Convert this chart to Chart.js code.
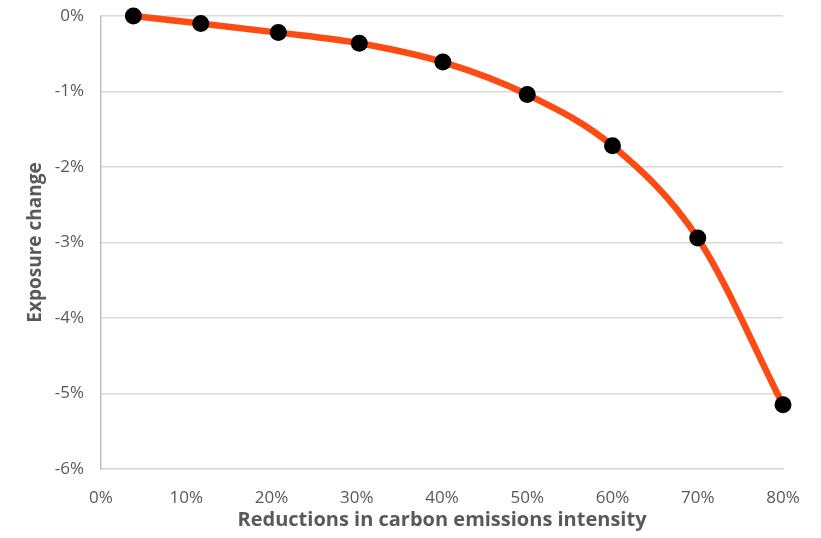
<!DOCTYPE html>
<html>
<head>
<meta charset="utf-8">
<script src="https://cdn.jsdelivr.net/npm/chart.js@4"></script>
<style>
  html, body { margin: 0; padding: 0; background: #fff; }
  #wrap { width: 821px; height: 538px; }
</style>
</head>
<body>
<div id="wrap"><canvas id="chart" width="821" height="538"></canvas></div>
<script>
// reduction in carbon intensity (%) and exposure change (%)
const reductions = [3.8, 11.7, 20.8, 30.3, 40.1, 50, 60, 70, 80]
const exposureChange = [0.0, -0.10, -0.22, -0.36, -0.61, -1.04, -1.72, -2.94, -5.15]
const xTicks = [0, 10, 20, 30, 40, 50, 60, 70, 80]
const yTicks = [-6, -5, -4, -3, -2, -1, 0]

const points = reductions.map((r, i) => ({ x: r, y: exposureChange[i] }))
const grey = '#595959'

new Chart(document.getElementById('chart'), {
  type: 'scatter',
  data: {
    datasets: [{
      data: points,
      showLine: true,
      borderColor: '#fc4c14',
      borderWidth: 6.5,
      cubicInterpolationMode: 'monotone',
      pointRadius: 8.5,
      pointBackgroundColor: '#000',
      pointBorderWidth: 0,
      clip: false
    }]
  },
  options: {
    responsive: false,
    animation: false,
    layout: { padding: { top: 16, right: 38, bottom: 2, left: 20 } },
    plugins: { legend: { display: false }, tooltip: { enabled: false } },
    scales: {
      x: {
        type: 'linear',
        min: 0, max: 80,
        afterBuildTicks: s => { s.ticks = xTicks.map(v => ({ value: v })) },
        grid: { display: false },
        border: { color: '#d9d9d9', width: 1.5 },
        ticks: { color: grey, font: { family: 'Open Sans', size: 17 }, padding: 11, callback: v => v + '%' },
        title: { display: true, text: 'Reductions in carbon emissions intensity', color: grey, font: { family: 'Open Sans', size: 20, weight: 'bold' }, padding: { top: 1 } },
        afterFit: s => { s.height = 67; s.paddingLeft = 0; s.paddingRight = 0 }
      },
      y: {
        min: -6, max: 0,
        afterBuildTicks: s => { s.ticks = yTicks.map(v => ({ value: v })) },
        grid: { color: '#d9d9d9', lineWidth: 1.5, drawTicks: false },
        border: { color: '#bfbfbf', width: 1.5 },
        ticks: { color: grey, font: { family: 'Open Sans', size: 17 }, padding: 17, callback: v => v + '%' },
        title: { display: true, text: 'Exposure change', color: grey, font: { family: 'Open Sans', size: 19, weight: 'bold' } },
        afterFit: s => { s.width = 81; s.paddingTop = 0; s.paddingBottom = 0 }
      }
    }
  }
})
</script>
</body>
</html>
